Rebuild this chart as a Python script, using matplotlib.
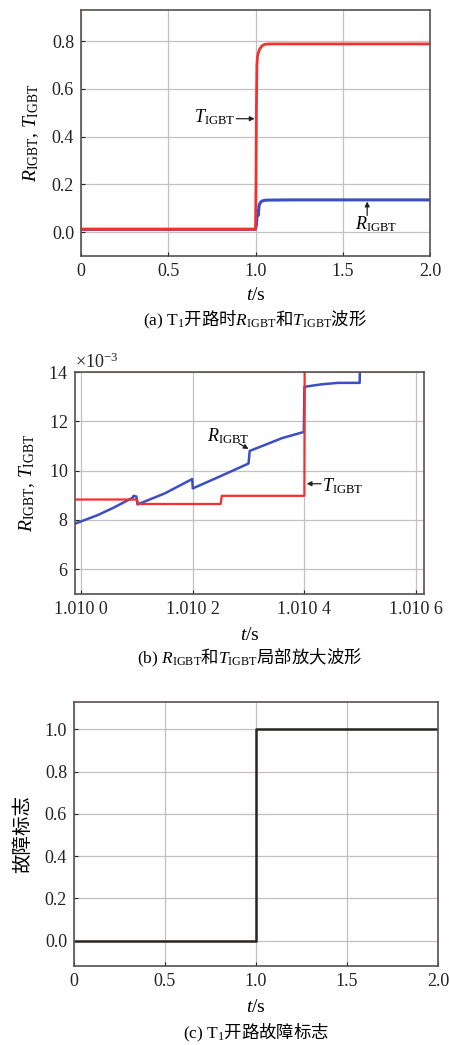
import matplotlib
matplotlib.use('Agg')
import matplotlib.pyplot as plt
from matplotlib.ticker import FuncFormatter

plt.rcParams['font.family'] = ['Liberation Serif', 'Noto Sans CJK SC']
plt.rcParams['mathtext.fontset'] = 'custom'
plt.rcParams['mathtext.rm'] = 'Liberation Serif'
plt.rcParams['mathtext.it'] = 'Liberation Serif:italic'
plt.rcParams['axes.unicode_minus'] = False

# (a) 全时段波形
t_a_T = [0, 1.0, 1.003, 1.005, 1.008, 1.012, 1.018, 1.025, 1.035, 1.045, 1.06, 1.08, 1.2, 2.0]
T_a = [0.012, 0.012, 0.2, 0.5, 0.7, 0.74, 0.755, 0.768, 0.778, 0.784, 0.787, 0.788, 0.788, 0.788]
t_a_R = [0, 1.0, 1.005, 1.008, 1.012, 1.016, 1.02, 1.025, 1.03, 1.04, 1.06, 1.2, 2.0]
R_a = [0.012, 0.012, 0.03, 0.06, 0.09, 0.07, 0.11, 0.12, 0.126, 0.131, 0.134, 0.135, 0.135]

# (b) 局部放大
t_b_R = [1.009989, 1.010030, 1.010060, 1.010092, 1.010094, 1.010099, 1.010101,
         1.010150, 1.010199, 1.010200, 1.010250, 1.010299, 1.010300, 1.010302,
         1.010330, 1.010360, 1.010399, 1.010400, 1.010430, 1.010460, 1.010499, 1.010500]
R_b = [7.85, 8.20, 8.52, 8.90, 8.98, 8.95, 8.63,
       9.08, 9.66, 9.28, 9.78, 10.28, 10.30, 10.80,
       11.05, 11.32, 11.57, 13.40, 13.50, 13.56, 13.56, 15.0]
t_b_T = [1.009989, 1.010100, 1.010102, 1.010250, 1.010252, 1.010400, 1.010401, 1.010614]
T_b = [8.83, 8.83, 8.65, 8.65, 8.98, 8.98, 20.0, 20.0]

# (c) 故障标志
t_c = [0, 1.0, 1.0, 2.0]
flag_c = [0, 0, 1, 1]

red = '#f2302e'
blue = '#3b4fc4'
grid_c = '#c4c0c0'
spine_c = '#5a5050'
arrow_kw = dict(arrowstyle='-|>', color='#222222', lw=0.9, mutation_scale=7, shrinkA=0, shrinkB=0)

fig = plt.figure(figsize=(4.49, 10.45), dpi=100)


def style(ax):
    ax.grid(True, color=grid_c, linewidth=0.9)
    ax.set_axisbelow(True)
    for s in ax.spines.values():
        s.set_color(spine_c)
        s.set_linewidth(1.2)
    ax.tick_params(direction='in', length=3, labelsize=13, colors='#222222', pad=5)


lab_a = r'$R_{\mathrm{IGBT}}$, $T_{\mathrm{IGBT}}$'

# ---- (a)
ax1 = fig.add_axes([0.1804, 0.755, 0.7773, 0.2354])
ax1.plot(t_a_R, R_a, color=blue, lw=2.2)
ax1.plot(t_a_T, T_a, color=red, lw=2.0)
ax1.set_xlim(0, 2.0)
ax1.set_ylim(-0.1, 0.93)
ax1.set_xticks([0, 0.5, 1.0, 1.5, 2.0])
ax1.set_xticklabels(['0', '0.5', '1.0', '1.5', '2.0'])
ax1.set_yticks([0.0, 0.2, 0.4, 0.6, 0.8])
style(ax1)
ax1.set_ylabel(lab_a, fontsize=14, labelpad=8)
ax1.text(0.65, 0.48, r'$T_{\mathrm{IGBT}}$', fontsize=13, va='center')
ax1.annotate('', xy=(0.995, 0.475), xytext=(0.89, 0.475), arrowprops=arrow_kw)
ax1.text(1.57, 0.035, r'$R_{\mathrm{IGBT}}$', fontsize=13, va='center')
ax1.annotate('', xy=(1.64, 0.128), xytext=(1.64, 0.07), arrowprops=arrow_kw)
fig.text(0.569, 0.7177, r'$t$/s', ha='center', va='center', fontsize=14)
fig.text(0.569, 0.6938, r'$\mathrm{(a)\ T_1}$开路时$R_{\mathrm{IGBT}}$和$T_{\mathrm{IGBT}}$波形',
         ha='center', va='center', fontsize=12.5, family='Noto Sans CJK SC')

# ---- (b)
ax2 = fig.add_axes([0.167, 0.4316, 0.777, 0.2124])
ax2.plot(t_b_R, [v * 1e-3 for v in R_b], color=blue, lw=1.8)
ax2.plot(t_b_T, [v * 1e-3 for v in T_b], color=red, lw=1.6)
ax2.set_xlim(1.009989, 1.010614)
ax2.set_ylim(5e-3, 14e-3)
ax2.set_xticks([1.0100, 1.0102, 1.0104, 1.0106])
ax2.xaxis.set_major_formatter(FuncFormatter(lambda v, p: '%.3f %d' % (v - (round(v * 1e4) % 10) * 1e-4 + 0.0, round(v * 1e4) % 10)))
ax2.set_yticks([6e-3, 8e-3, 10e-3, 12e-3, 14e-3])
ax2.ticklabel_format(axis='y', style='sci', scilimits=(-3, -3), useMathText=True)
style(ax2)
ax2.yaxis.get_offset_text().set_fontsize(13)
ax2.set_ylabel(lab_a, fontsize=14, labelpad=8)
ax2.text(1.010225, 11.4e-3, r'$R_{\mathrm{IGBT}}$', fontsize=13, va='center')
ax2.annotate('', xy=(1.010300, 10.88e-3), xytext=(1.010283, 11.1e-3), arrowprops=arrow_kw)
ax2.text(1.010432, 9.38e-3, r'$T_{\mathrm{IGBT}}$', fontsize=13, va='center')
ax2.annotate('', xy=(1.010404, 9.47e-3), xytext=(1.010430, 9.47e-3), arrowprops=arrow_kw)
fig.text(0.556, 0.392, r'$t$/s', ha='center', va='center', fontsize=14)
fig.text(0.556, 0.370, r'$\mathrm{(b)}\ R_{\mathrm{IGBT}}$和$T_{\mathrm{IGBT}}$局部放大波形',
         ha='center', va='center', fontsize=12.5, family='Noto Sans CJK SC')

# ---- (c)
ax3 = fig.add_axes([0.1648, 0.0756, 0.8107, 0.2526])
ax3.plot(t_c, flag_c, color='#2a2424', lw=1.8)
ax3.set_xlim(0, 2.0)
ax3.set_ylim(-0.12, 1.13)
ax3.set_xticks([0, 0.5, 1.0, 1.5, 2.0])
ax3.set_xticklabels(['0', '0.5', '1.0', '1.5', '2.0'])
ax3.set_yticks([0.0, 0.2, 0.4, 0.6, 0.8, 1.0])
style(ax3)
ax3.set_ylabel('故障标志', fontsize=14, family='Noto Sans CJK SC', labelpad=8)
fig.text(0.57, 0.036, r'$t$/s', ha='center', va='center', fontsize=14)
fig.text(0.57, 0.012, r'$\mathrm{(c)\ T_1}$开路故障标志',
         ha='center', va='center', fontsize=12.5, family='Noto Sans CJK SC')

fig.savefig('out.png', dpi=100)
